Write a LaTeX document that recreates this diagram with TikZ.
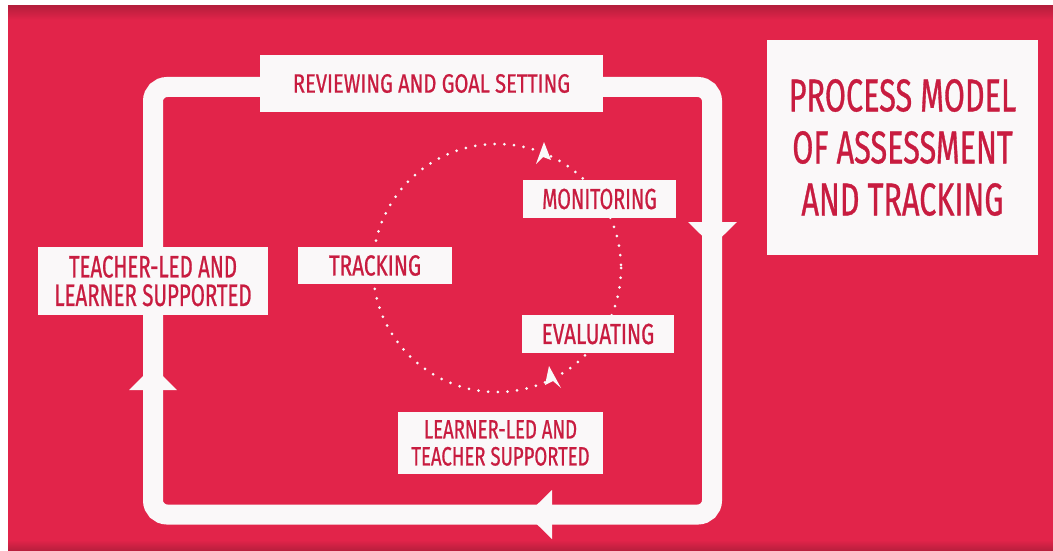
\documentclass[tikz,border=0pt]{standalone}
\usepackage{fontspec}
\newcommand{\cf}[3]{\fontspec[FakeStretch=#1,FakeBold=0.7]{Fira Sans}\fontsize{#2}{#3}\selectfont}
\definecolor{bgred}{RGB}{226,36,74}
\definecolor{bgdark}{RGB}{182,30,60}
\definecolor{txtred}{RGB}{200,28,64}
\definecolor{offwhite}{RGB}{250,248,249}
\tikzset{
  box/.style={fill=offwhite, inner sep=0pt, align=center, text=txtred},
  loopline/.style={draw=offwhite, line width=20pt, rounded corners=14pt},
  loophead/.style={fill=offwhite},
  dotring/.style={draw=offwhite, line width=3pt, line cap=round, dash pattern=on 0pt off 9.7pt},
  ringhead/.style={fill=offwhite}
}
\begin{document}
\begin{tikzpicture}[x=1pt,y=-1pt]
\useasboundingbox (0,0) rectangle (1053,551);
\fill[white] (0,0) rectangle (1053,551);
\fill[bgred] (8,6) rectangle (1053,551);
\shade[top color=bgdark, bottom color=bgred] (8,6) rectangle (1053,20);
\shade[top color=bgred, bottom color=bgdark] (8,540) rectangle (1053,551);

% outer loop
\coordinate (tl) at (153,87);
\coordinate (tr) at (712,87);
\coordinate (br) at (712,514.5);
\coordinate (bl) at (153,514.5);
\draw[loopline] (tl) -- (tr) -- (br) -- (bl) -- cycle;
\fill[loophead] (688,222) -- (737,222) -- (712.5,246) -- cycle;
\fill[loophead] (552,490) -- (552,539) -- (527,514.5) -- cycle;
\fill[loophead] (129,390) -- (177,390) -- (153,366) -- cycle;

% dotted ring
\coordinate (cen) at (497,268);
\draw[dotring] (cen) circle (124);
\fill[ringhead] (544,142) -- (536,164) -- (543,157) -- (551,160) -- cycle;
\fill[ringhead] (549,366) -- (545,385) -- (553,381) -- (561,388) -- cycle;

% boxes
\node[box, minimum width=343pt, minimum height=57pt, font=\cf{0.76}{26.5}{28}] (rev) at (431.5,83.5) {REVIEWING AND GOAL SETTING};
\node[box, minimum width=230pt, minimum height=68pt, font=\cf{0.66}{31}{28.5}] (teach) at (153,281) {TEACHER-LED AND\\LEARNER SUPPORTED};
\node[box, minimum width=154pt, minimum height=37pt, font=\cf{0.715}{29}{30}] (track) at (375,265.5) {TRACKING};
\node[box, minimum width=153pt, minimum height=38pt, font=\cf{0.678}{29}{30}] (mon) at (599.5,199) {MONITORING};
\node[box, minimum width=152pt, minimum height=38pt, font=\cf{0.715}{29}{30}] (eval) at (598,334) {EVALUATING};
\node[box, minimum width=205pt, minimum height=62pt, font=\cf{0.70}{26.5}{27}] (learn) at (500.5,443) {LEARNER-LED AND\\TEACHER SUPPORTED};
\node[box, minimum width=271pt, minimum height=215pt, font=\cf{0.665}{46}{52}] (title) at (902.5,147.5) {PROCESS MODEL\\OF ASSESSMENT\\AND TRACKING};
\end{tikzpicture}
\end{document}
